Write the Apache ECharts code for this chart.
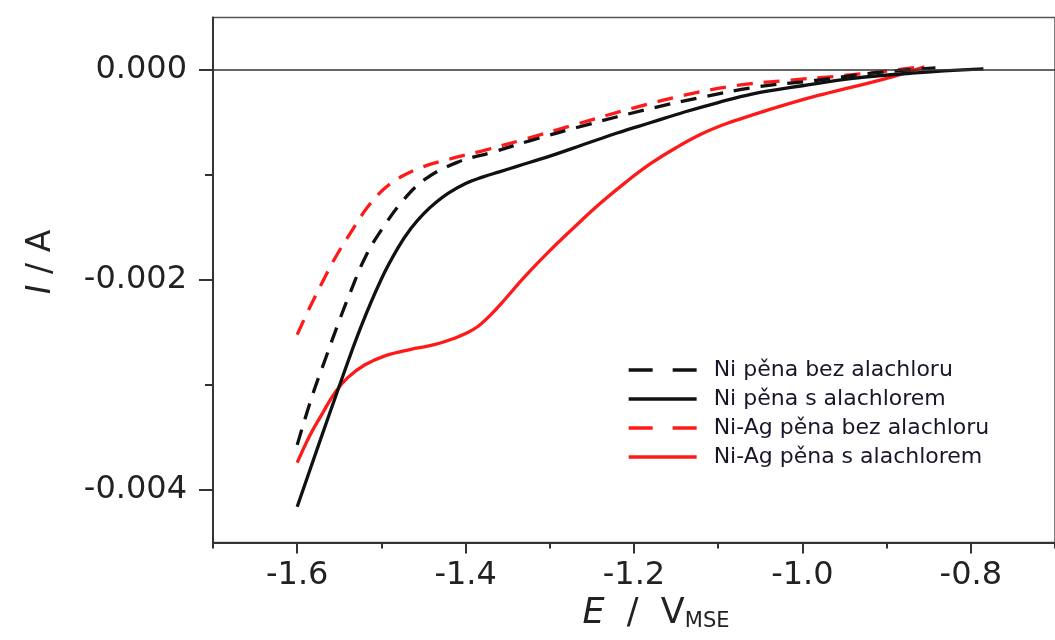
<!DOCTYPE html>
<html><head><meta charset="utf-8">
<script src="https://cdn.jsdelivr.net/npm/echarts@6/dist/echarts.min.js"></script>
<style>html,body{margin:0;padding:0;background:#fff}#c{width:1055px;height:640px}</style>
</head><body><div id="c"></div>
<script>
const seriesNames = ['Ni pěna bez alachloru', 'Ni pěna s alachlorem', 'Ni-Ag pěna bez alachloru', 'Ni-Ag pěna s alachlorem'];
const xTickLabels = [-1.6, -1.4, -1.2, -1.0, -0.8];
const xMinorTicks = [-1.7, -1.5, -1.3, -1.1, -0.9, -0.7];
const yTickLabels = [-0.004, -0.002, 0];
const yMinorTicks = [-0.003, -0.001];

// Ni pěna bez alachloru (black dashed)
const niBezE = [-1.600, -1.582, -1.566, -1.552, -1.537, -1.519, -1.498, -1.474, -1.448, -1.410, -1.367, -1.322, -1.255, -1.187, -1.120, -1.053, -0.985, -0.918, -0.842];
const niBezI = [-0.00357, -0.00310, -0.00274, -0.00243, -0.00212, -0.00178, -0.00150, -0.00124, -0.00104, -0.00088, -0.00078, -0.00067, -0.00052, -0.00038, -0.00026, -0.00016, -0.00010, -0.00003, 0.00002];

// Ni pěna s alachlorem (black solid)
const niSE = [-1.600, -1.575, -1.550, -1.525, -1.500, -1.480, -1.465, -1.450, -1.435, -1.420, -1.400, -1.380, -1.360, -1.340, -1.300, -1.260, -1.220, -1.180, -1.140, -1.100, -1.060, -1.000, -0.940, -0.870, -0.785];
const niSI = [-0.00416, -0.00358, -0.00301, -0.00246, -0.00199, -0.00169, -0.00151, -0.00137, -0.00126, -0.00117, -0.00108, -0.00102, -0.00097, -0.00092, -0.00082, -0.00071, -0.00060, -0.00050, -0.00040, -0.00031, -0.00023, -0.00015, -0.00008, -0.00003, 0.00001];

// Ni-Ag pěna bez alachloru (red dashed)
const niAgBezE = [-1.600, -1.585, -1.570, -1.555, -1.535, -1.515, -1.495, -1.475, -1.450, -1.420, -1.380, -1.330, -1.270, -1.200, -1.140, -1.080, -1.020, -0.960, -0.900, -0.860];
const niAgBezI = [-0.00252, -0.00226, -0.00202, -0.00179, -0.00153, -0.00129, -0.00112, -0.00101, -0.00092, -0.00085, -0.00077, -0.00066, -0.00052, -0.00036, -0.00024, -0.00015, -0.00010, -0.00006, -0.00001, 0.00003];

// Ni-Ag pěna s alachlorem (red solid)
const niAgSE = [-1.600, -1.585, -1.570, -1.555, -1.540, -1.520, -1.495, -1.465, -1.445, -1.430, -1.415, -1.400, -1.385, -1.370, -1.355, -1.330, -1.300, -1.270, -1.240, -1.210, -1.180, -1.150, -1.120, -1.090, -1.060, -1.020, -0.980, -0.940, -0.900, -0.855];
const niAgSI = [-0.00374, -0.00348, -0.00327, -0.00307, -0.00293, -0.00281, -0.00272, -0.00266, -0.00263, -0.00260, -0.00256, -0.00251, -0.00244, -0.00233, -0.00220, -0.00197, -0.00172, -0.00149, -0.00127, -0.00107, -0.00089, -0.00074, -0.00061, -0.00051, -0.00043, -0.00033, -0.00024, -0.00016, -0.00008, 0.00003];

function pairs(xs, ys) { return xs.map((x, i) => [x, ys[i]]); }

const BLACK = '#111111';
const RED = '#ff1a1a';
const dash = [16, 11];

const chart = echarts.init(document.getElementById('c'), null, { renderer: 'canvas' });

const tickFont = { fontFamily: 'DejaVu Sans', fontSize: 32, color: '#222' };

function mkSeries(name, data, color, dashed, z) {
  return {
    name: name, type: 'line', data: data, smooth: 0.4,
    showSymbol: false, symbol: 'none', z: z,
    lineStyle: { color: color, width: 3.3, type: dashed ? dash : 'solid' },
    itemStyle: { color: color }
  };
}

const option = {
  animation: false,
  backgroundColor: '#ffffff',
  grid: { left: 213, right: -10, top: 17.5, bottom: 97.5, show: true, borderColor: '#555', borderWidth: 1.5, backgroundColor: 'transparent' },
  legend: {
    orient: 'vertical', left: 622, top: 354,
    itemWidth: 68, itemHeight: 14, itemGap: 7,
    itemStyle: { opacity: 0 },
    textStyle: { fontFamily: 'DejaVu Sans', fontSize: 22, color: '#1c1428', lineHeight: 22, padding: [0, 0, 0, 12] },
    data: [
      { name: seriesNames[0], lineStyle: { type: [24, 20], width: 3.3, color: BLACK } },
      { name: seriesNames[1], lineStyle: { width: 3.3, color: BLACK } },
      { name: seriesNames[2], lineStyle: { type: [24, 20], width: 3.3, color: RED } },
      { name: seriesNames[3], lineStyle: { width: 3.3, color: RED } }
    ]
  },
  xAxis: [
    {
      type: 'value', min: -1.7, max: -0.7, interval: 0.1, position: 'bottom',
      name: '{i|E}  /  V{sub|MSE}', nameLocation: 'middle', nameGap: 50,
      nameTextStyle: {
        fontFamily: 'DejaVu Sans', fontSize: 35, color: '#222', padding: [0, 0, 0, 44],
        rich: {
          i: { fontFamily: 'DejaVu Sans', fontSize: 35, fontStyle: 'italic', color: '#222' },
          sub: { fontFamily: 'DejaVu Sans', fontSize: 21, color: '#222', verticalAlign: 'bottom', padding: [16, 0, 0, 0] }
        }
      },
      axisLine: { show: true, onZero: false, lineStyle: { color: '#333', width: 2 } },
      axisTick: { show: true, inside: false, length: 11, lineStyle: { color: '#333', width: 2 }, customValues: xTickLabels },
      axisLabel: { show: true, margin: 17, customValues: xTickLabels, formatter: v => v.toFixed(1), ...tickFont },
      splitLine: { show: false }
    },
    {
      type: 'value', min: -1.7, max: -0.7, interval: 0.1, position: 'bottom',
      axisLine: { show: false, onZero: false },
      axisTick: { show: true, inside: false, length: 6, lineStyle: { color: '#333', width: 2 }, customValues: xMinorTicks },
      axisLabel: { show: false },
      splitLine: { show: false }
    }
  ],
  yAxis: [
    {
      type: 'value', min: -0.0045, max: 0.0005, interval: 0.0005, position: 'left',
      name: '{i|I} / A', nameLocation: 'middle', nameGap: 155, nameRotate: 90,
      nameTextStyle: {
        fontFamily: 'DejaVu Sans', fontSize: 33, color: '#222', padding: [0, 0, 0, 36],
        rich: { i: { fontFamily: 'DejaVu Sans', fontSize: 33, fontStyle: 'italic', color: '#222' } }
      },
      axisLine: { show: true, onZero: false, lineStyle: { color: '#333', width: 2 } },
      axisTick: { show: true, inside: false, length: 14, lineStyle: { color: '#333', width: 2 }, customValues: yTickLabels },
      axisLabel: { show: true, margin: 26, customValues: yTickLabels, formatter: v => v.toFixed(3), ...tickFont },
      splitLine: { show: false }
    },
    {
      type: 'value', min: -0.0045, max: 0.0005, interval: 0.0005, position: 'left',
      axisLine: { show: false, onZero: false },
      axisTick: { show: true, inside: false, length: 8, lineStyle: { color: '#333', width: 2 }, customValues: yMinorTicks },
      axisLabel: { show: false },
      splitLine: { show: false }
    }
  ],
  series: [
    Object.assign(mkSeries(seriesNames[0], pairs(niBezE, niBezI), BLACK, true, 4), {
      markLine: {
        silent: true, symbol: 'none', label: { show: false },
        lineStyle: { color: '#333', width: 1.5, type: 'solid' },
        data: [{ yAxis: 0 }]
      }
    }),
    mkSeries(seriesNames[1], pairs(niSE, niSI), BLACK, false, 4),
    mkSeries(seriesNames[2], pairs(niAgBezE, niAgBezI), RED, true, 3),
    mkSeries(seriesNames[3], pairs(niAgSE, niAgSI), RED, false, 3)
  ]
};
chart.setOption(option);
</script>
</body></html>
